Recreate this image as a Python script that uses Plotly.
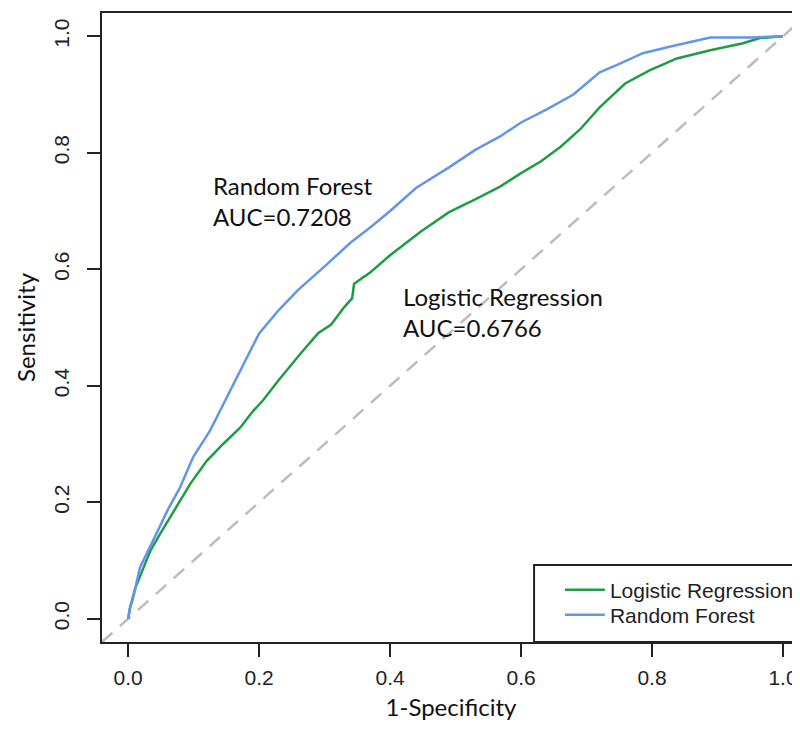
import plotly.graph_objects as go

# ---- data ----
models = ["Logistic Regression", "Random Forest"]
auc_values = [0.6766, 0.7208]
colors = ["#1f9d45", "#6495ED"]

lr_fpr = [0.0, 0.003, 0.011, 0.021, 0.034, 0.049, 0.064, 0.076, 0.095, 0.12, 0.145,
          0.171, 0.191, 0.206, 0.23, 0.263, 0.29, 0.31, 0.33, 0.342, 0.345, 0.37,
          0.4, 0.446, 0.49, 0.53, 0.568, 0.6, 0.63, 0.66, 0.69, 0.72, 0.759, 0.797,
          0.838, 0.889, 0.939, 0.965, 1.0]
lr_tpr = [0.0, 0.02, 0.053, 0.082, 0.117, 0.146, 0.174, 0.198, 0.232, 0.271, 0.30,
          0.328, 0.357, 0.375, 0.41, 0.455, 0.49, 0.505, 0.535, 0.55, 0.575, 0.595,
          0.624, 0.664, 0.698, 0.72, 0.742, 0.765, 0.785, 0.81, 0.84, 0.878, 0.919,
          0.942, 0.962, 0.976, 0.988, 0.997, 1.0]

rf_fpr = [0.0, 0.002, 0.0076, 0.018, 0.038, 0.06, 0.079, 0.099, 0.125, 0.148, 0.175,
          0.2, 0.23, 0.26, 0.3, 0.339, 0.37, 0.4, 0.44, 0.49, 0.53, 0.568, 0.6,
          0.64, 0.68, 0.72, 0.745, 0.786, 0.83, 0.889, 0.95, 1.0]
rf_tpr = [0.0, 0.015, 0.036, 0.088, 0.134, 0.186, 0.225, 0.277, 0.323, 0.375, 0.435,
          0.49, 0.53, 0.565, 0.605, 0.645, 0.672, 0.70, 0.74, 0.775, 0.805, 0.828,
          0.852, 0.875, 0.9, 0.938, 0.95, 0.971, 0.983, 0.998, 0.998, 1.0]

diag = [-0.04, 1.04]
x_ticks = [0.0, 0.2, 0.4, 0.6, 0.8, 1.0]
y_ticks = [0.0, 0.2, 0.4, 0.6, 0.8, 1.0]
tick_text = ["0.0", "0.2", "0.4", "0.6", "0.8", "1.0"]
label_pos = [(0.417, 0.527), (0.127, 0.7175)]  # annotation anchors (data units)

AXIS_COLOR = "#222222"
TICK_FONT = dict(family="Liberation Sans, Arial, sans-serif", size=21, color="#222222")
TEXT_FONT = dict(family="Lato, Carlito, Calibri, sans-serif", size=24, color="#111111")

fig = go.Figure()
fig.add_trace(go.Scatter(x=diag, y=diag, mode="lines", showlegend=False, hoverinfo="skip",
                         line=dict(color="#bdbdbd", width=2.5, dash="14px,10px")))
fig.add_trace(go.Scatter(x=lr_fpr, y=lr_tpr, mode="lines", name=models[0], legend="legend",
                         line=dict(color=colors[0], width=2.5)))
fig.add_trace(go.Scatter(x=rf_fpr, y=rf_tpr, mode="lines", name=models[1], legend="legend2",
                         line=dict(color=colors[1], width=2.5)))

for name, auc, (ax, ay) in zip(models, auc_values, label_pos):
    fig.add_annotation(x=ax, y=ay, xref="x", yref="y", text=f"{name}<br>AUC={auc:.4f}",
                       showarrow=False, xanchor="left", yanchor="middle", align="left",
                       font=TEXT_FONT)

# legend frame (extends past the right edge like the reference)
fig.add_shape(type="rect", xref="paper", yref="paper", x0=0.619, x1=1.05, y0=0, y1=0.1224,
              line=dict(color=AXIS_COLOR, width=2), fillcolor="rgba(0,0,0,0)", layer="above")

legend_common = dict(xanchor="left", yanchor="middle", font=TICK_FONT,
                     bgcolor="rgba(0,0,0,0)", borderwidth=0, itemwidth=40)

fig.update_layout(
    width=792, height=713,
    margin=dict(l=94, r=0, t=5, b=79, pad=0),
    paper_bgcolor="white", plot_bgcolor="white",
    showlegend=True,
    legend=dict(x=0.656, y=0.0827, **legend_common),
    legend2=dict(x=0.656, y=0.0429, **legend_common),
    xaxis=dict(range=[-0.04, 1.026], tickvals=x_ticks, ticktext=tick_text,
               ticks="outside", ticklen=13, tickwidth=2, tickcolor=AXIS_COLOR,
               showline=True, linewidth=2, linecolor=AXIS_COLOR, mirror=True,
               showgrid=False, zeroline=False, tickfont=TICK_FONT, ticklabelstandoff=3,
               title=dict(text="1-Specificity", font=TEXT_FONT, standoff=13)),
    yaxis=dict(range=[-0.04, 1.04], tickvals=y_ticks, ticktext=tick_text,
               ticks="outside", ticklen=13, tickwidth=2, tickcolor=AXIS_COLOR,
               showline=True, linewidth=2, linecolor=AXIS_COLOR, mirror=False,
               showgrid=False, zeroline=False, tickfont=TICK_FONT, tickangle=-90,
               ticklabelstandoff=10,
               title=dict(text="Sensitivity", font=TEXT_FONT, standoff=7)),
)

fig.write_html("out.html")
